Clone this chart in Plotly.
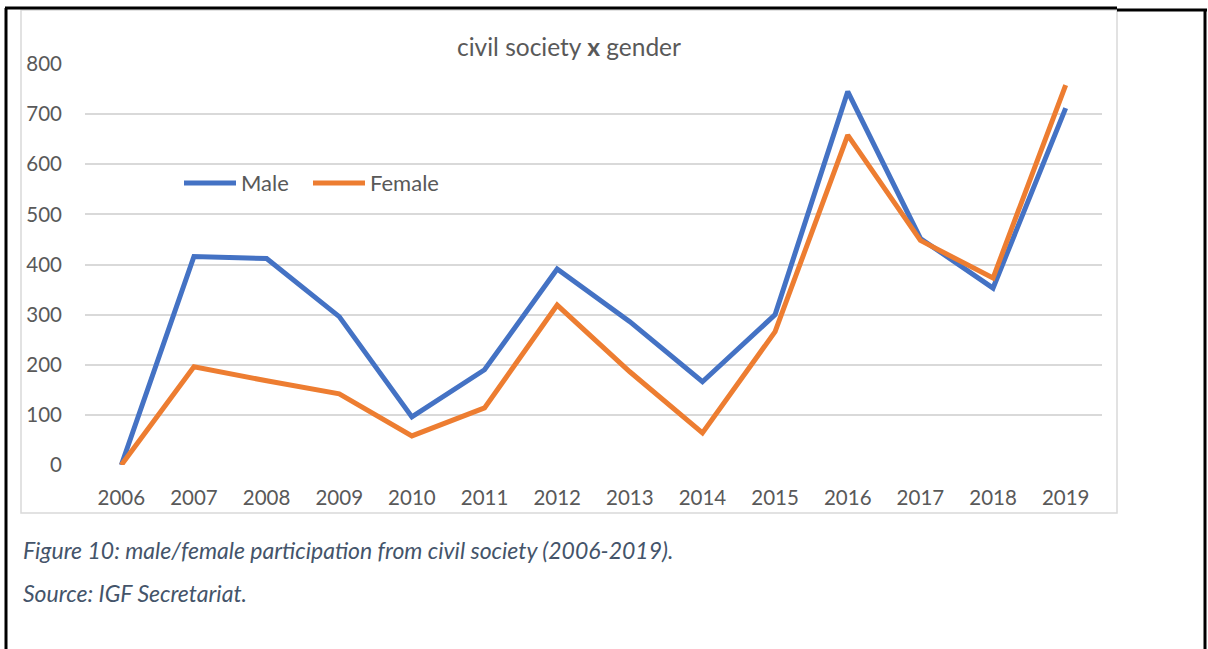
import plotly.graph_objects as go

years = ["2006", "2007", "2008", "2009", "2010", "2011", "2012",
         "2013", "2014", "2015", "2016", "2017", "2018", "2019"]
male = [0, 416, 412, 296, 96, 190, 391, 286, 166, 300, 745, 452, 353, 712]
female = [0, 196, 168, 142, 58, 114, 319, 186, 64, 266, 658, 448, 373, 758]
y_ticks = [0, 100, 200, 300, 400, 500, 600, 700, 800]

W, H = 1208, 649
FONT = "Lato"
GREY_TXT = "#595959"
BLUE = "#4472C4"
ORANGE = "#ED7D31"


def px(x):
    return x / W


def py(y):
    return 1 - y / H


fig = go.Figure()
fig.add_trace(go.Scatter(x=years, y=male, name="Male", mode="lines",
                         line=dict(color=BLUE, width=5),
                         cliponaxis=False))
fig.add_trace(go.Scatter(x=years, y=female, name="Female", mode="lines",
                         line=dict(color=ORANGE, width=5),
                         cliponaxis=False))

fig.update_layout(
    width=W, height=H,
    margin=dict(l=0, r=0, t=0, b=0, pad=0, autoexpand=False),
    paper_bgcolor="white", plot_bgcolor="white",
    font=dict(family=FONT, color=GREY_TXT, size=20),
    showlegend=False,
    xaxis=dict(domain=[px(85), px(1102)], type="category",
               range=[-0.5, 13.5], showgrid=False, showline=False,
               zeroline=False, ticks="", ticklabelstandoff=18,
               automargin=False,
               tickfont=dict(size=20.5, color=GREY_TXT)),
    yaxis=dict(domain=[py(465), py(64)], range=[0, 800],
               tickvals=y_ticks, showgrid=True, gridcolor="#D9D9D9",
               gridwidth=1.5, zeroline=False, showline=False, ticks="",
               ticklabelstandoff=22, automargin=False,
               tickfont=dict(size=20.5, color=GREY_TXT)),
)

shapes = [
    # chart frame
    dict(type="rect", xref="paper", yref="paper",
         x0=px(21), x1=px(1117), y0=py(513), y1=py(10),
         line=dict(color="#D9D9D9", width=1.5)),
    # page borders
    dict(type="line", xref="paper", yref="paper",
         x0=px(6), x1=px(6), y0=py(8), y1=py(649),
         line=dict(color="black", width=3)),
    dict(type="line", xref="paper", yref="paper",
         x0=px(5), x1=px(1117), y0=py(8), y1=py(8),
         line=dict(color="black", width=3)),
    dict(type="line", xref="paper", yref="paper",
         x0=px(1117), x1=px(1207), y0=py(10), y1=py(10),
         line=dict(color="black", width=3)),
    dict(type="line", xref="paper", yref="paper",
         x0=px(1205), x1=px(1205), y0=py(9), y1=py(649),
         line=dict(color="black", width=3)),
    # legend keys
    dict(type="line", xref="paper", yref="paper",
         x0=px(184), x1=px(236), y0=py(183), y1=py(183),
         line=dict(color=BLUE, width=5)),
    dict(type="line", xref="paper", yref="paper",
         x0=px(313), x1=px(365), y0=py(183), y1=py(183),
         line=dict(color=ORANGE, width=5)),
]
fig.update_layout(shapes=shapes)

legend_labels = [("Male", 239), ("Female", 368)]
for label, lx in legend_labels:
    fig.add_annotation(text=label, xref="paper", yref="paper",
                       x=px(lx), y=py(183), showarrow=False,
                       xanchor="left", yanchor="middle",
                       font=dict(size=22, color=GREY_TXT, family=FONT))

fig.add_annotation(text="civil society <b>x</b> gender", xref="paper",
                   yref="paper", x=px(569), y=py(46), showarrow=False,
                   xanchor="center", yanchor="middle",
                   font=dict(size=24.5, color=GREY_TXT, family=FONT))
fig.add_annotation(text="<i>Figure 10: male/female participation from civil society (2006-2019).</i>",
                   xref="paper", yref="paper", x=px(21), y=py(550),
                   showarrow=False, xanchor="left", yanchor="middle",
                   font=dict(size=23, color="#44546A", family=FONT))
fig.add_annotation(text="<i>Source: IGF Secretariat.</i>",
                   xref="paper", yref="paper", x=px(21), y=py(593),
                   showarrow=False, xanchor="left", yanchor="middle",
                   font=dict(size=23, color="#44546A", family=FONT))

fig.write_html("out.html")
